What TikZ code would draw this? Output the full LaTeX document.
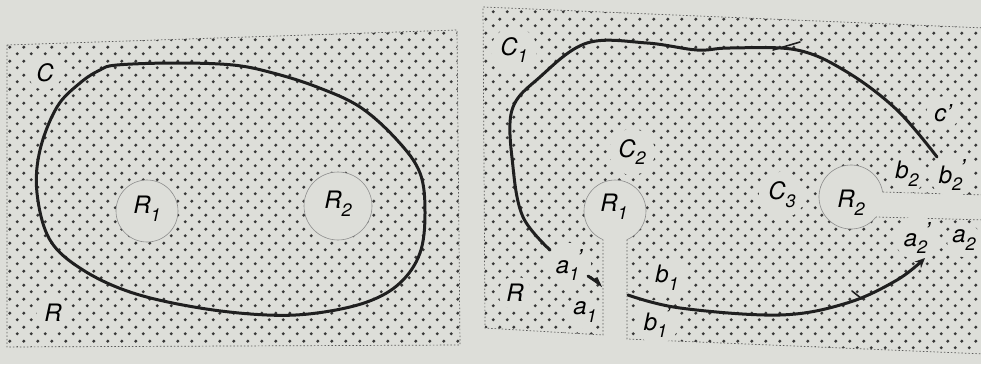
\documentclass[tikz,border=0pt]{standalone}
\usepackage{fontspec}
\setmainfont{TeX Gyre Heros}
\usepackage{tikz}
\usetikzlibrary{arrows.meta,patterns}
\definecolor{bg}{RGB}{221,222,217}
\pgfdeclarepatternformonly{stipple}{\pgfqpoint{0pt}{0pt}}{\pgfqpoint{14pt}{14pt}}{\pgfqpoint{14pt}{14pt}}{%
  \pgfpathcircle{\pgfqpoint{3.5pt}{3.5pt}}{1.8pt}%
  \pgfpathcircle{\pgfqpoint{10.5pt}{10.5pt}}{1.8pt}%
  \pgfusepath{fill}}
\newcommand\sublbl[2]{#1\raisebox{-0.32em}{\fontsize{18}{18}\selectfont #2}}
\newcommand\primlbl[2]{#1\raisebox{-0.32em}{\fontsize{18}{18}\selectfont #2}\raisebox{0.3em}{\kern-0.1em’}}
\tikzset{
  region/.style = {pattern=stipple, pattern color=black!78},
  rim/.style = {draw=black!65, line width=0.7pt, dash pattern=on 1.5pt off 2pt},
  holerim/.style = {draw=black!45, line width=0.6pt},
  contour/.style = {line width=3pt, draw=black!88, line cap=round, line join=round},
  barb/.style = {line width=1.6pt, draw=black!88, line cap=round},
  lbl/.style = {circle, fill=bg, inner sep=3pt, font=\fontsize{24}{26}\selectfont\itshape},
}
\begin{document}
\begin{tikzpicture}[x=1pt,y=-1pt]
\fill[bg] (0,0) rectangle (981,364);
\useasboundingbox (0,0) rectangle (981,364);
% left: region with two holes
\coordinate (LR1) at (147,211);
\coordinate (LR2) at (338,206);
\path[region, even odd rule] (7,45) -- (457,30) -- (460,345) -- (7,347) -- cycle
  (LR1) circle (31) (LR2) circle (34);
\draw[rim] (7,45) -- (457,30) -- (460,345) -- (7,347) -- cycle;
\draw[holerim] (LR1) circle (31) (LR2) circle (34);
\node[lbl] (lC) at (45,73) {C};
\node[lbl] (lR) at (53,313) {R};
\node[lbl, fill=none] (lR1) at (147,209) {\sublbl{R}{1}};
\node[lbl, fill=none] (lR2) at (338,204) {\sublbl{R}{2}};
\draw[contour] plot[smooth cycle, tension=0.6] coordinates {
  (117,65) (175,63) (233,65) (273,73) (317,87) (360,107) (397,140) (420,173)
  (425,213) (420,253) (400,283) (367,302) (317,313) (267,315) (200,308)
  (133,293) (83,270) (50,240) (37,193) (40,150) (57,107) (80,83) (100,70)};
% right: the same region cut along two slits
\coordinate (RR1) at (615,211);
\coordinate (RR2) at (851,197);
\coordinate (s1r) at (627,239.6);
\coordinate (s1l) at (603,239.6);
\coordinate (s2t) at (882.6,192);
\coordinate (s2b) at (876,217);
\path[region] (603,335) -- (485,328) -- (483,7) -- (985,28) -- (985,195) -- (s2t)
  arc[start angle=-9, end angle=-321.3, radius=32] -- (985,220) -- (985,354)
  -- (627,339) -- (s1r) arc[start angle=67.2, end angle=-247.2, radius=31] -- cycle;
\draw[rim] (s1r) -- (627,339) -- (985,354) -- (985,220) -- (s2b);
\draw[rim] (s2t) -- (985,195) -- (985,28) -- (483,7) -- (485,328) -- (603,335) -- (s1l);
\draw[holerim] (s2t) arc[start angle=-9, end angle=-321.3, radius=32];
\draw[holerim] (s1r) arc[start angle=67.2, end angle=-247.2, radius=31];
\node[lbl] (rC1) at (514,50) {\sublbl{C}{1}};
\node[lbl] (rC2) at (632,152) {\sublbl{C}{2}};
\node[lbl] (rC3) at (782,195) {\sublbl{C}{3}};
\node[lbl] (rc) at (943,113) {c’};
\node[lbl, inner sep=1pt] (rb2) at (907,174) {\sublbl{b}{2}};
\node[lbl, inner sep=1pt] (rb2p) at (952,175) {\primlbl{b}{2}};
\node[lbl, inner sep=1pt] (ra2p) at (917,238) {\primlbl{a}{2}};
\node[lbl, inner sep=1pt] (ra2) at (964,240) {\sublbl{a}{2}};
\node[lbl, inner sep=1pt] (ra1p) at (569,265) {\primlbl{a}{1}};
\node[lbl, inner sep=1pt] (ra1) at (585,312) {\sublbl{a}{1}};
\node[lbl] (rR) at (515,293) {R};
\node[lbl, inner sep=1pt] (rb1) at (667,278) {\sublbl{b}{1}};
\node[lbl, inner sep=1pt] (rb1p) at (657,322) {\primlbl{b}{1}};
\node[lbl, fill=none] (rR1) at (614,207) {\sublbl{R}{1}};
\node[lbl, fill=none] (rR2) at (851,203) {\sublbl{R}{2}};
\draw[contour] plot[smooth, tension=0.6] coordinates {
  (550,250) (523,217) (513,167) (512,110) (540,77) (587,43) (647,43) (697,50)
  (730,48) (797,50) (847,72) (897,110) (937,157)};
\draw[contour, -{Stealth[length=10pt, width=9pt]}] plot[smooth, tension=0.6] coordinates {
  (628,295) (680,308) (780,315) (847,303) (897,280) (925,258)};
\draw[contour, -{Straight Barb[harpoon, length=5pt, width=6pt]}] (588,276) -- (603,286);
\draw[barb] (773,50) -- (800,42);
\draw[barb] (862,299) -- (852,291);
\end{tikzpicture}
\end{document}
